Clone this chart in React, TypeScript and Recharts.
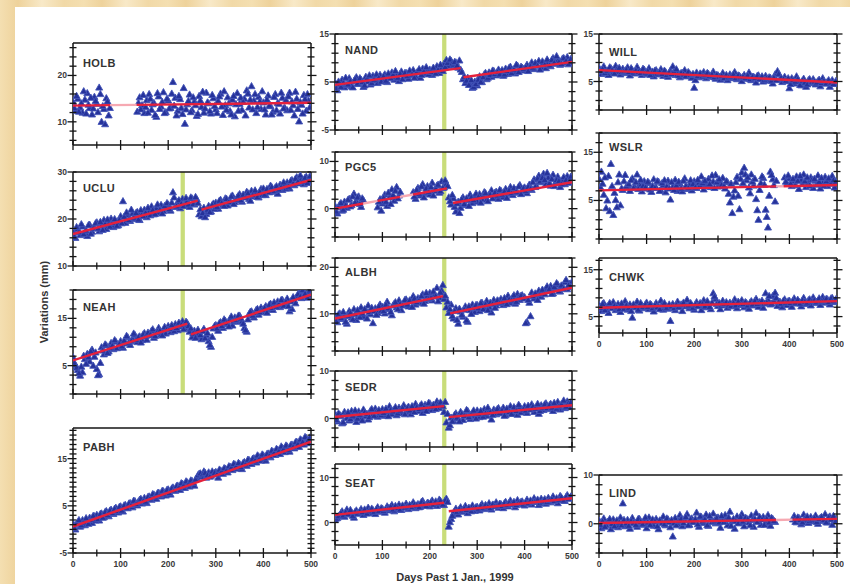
import { ComposedChart, Scatter, XAxis, YAxis, ReferenceArea } from 'recharts';

const FONT = '"Liberation Sans", Arial, Helvetica, sans-serif';

// sample days: daily solutions thinned to two interleaved sets
const DAYS = [
  0, 5, 10, 15, 20, 25, 30, 35, 40, 45,
  50, 55, 60, 65, 70, 75, 80, 85, 90, 95,
  100, 105, 110, 115, 120, 125, 130, 135, 140, 145,
  150, 155, 160, 165, 170, 175, 180, 185, 190, 195,
  200, 205, 210, 215, 220, 225, 230, 235, 240, 245,
  250, 255, 260, 265, 270, 275, 280, 285, 290, 295,
  300, 305, 310, 315, 320, 325, 330, 335, 340, 345,
  350, 355, 360, 365, 370, 375, 380, 385, 390, 395,
  400, 405, 410, 415, 420, 425, 430, 435, 440, 445,
  450, 455, 460, 465, 470, 475, 480, 485, 490, 495,
  500,
];
const DAYS_B = [
  2.5, 7.5, 12.5, 17.5, 22.5, 27.5, 32.5, 37.5, 42.5, 47.5,
  52.5, 57.5, 62.5, 67.5, 72.5, 77.5, 82.5, 87.5, 92.5, 97.5,
  102.5, 107.5, 112.5, 117.5, 122.5, 127.5, 132.5, 137.5, 142.5, 147.5,
  152.5, 157.5, 162.5, 167.5, 172.5, 177.5, 182.5, 187.5, 192.5, 197.5,
  202.5, 207.5, 212.5, 217.5, 222.5, 227.5, 232.5, 237.5, 242.5, 247.5,
  252.5, 257.5, 262.5, 267.5, 272.5, 277.5, 282.5, 287.5, 292.5, 297.5,
  302.5, 307.5, 312.5, 317.5, 322.5, 327.5, 332.5, 337.5, 342.5, 347.5,
  352.5, 357.5, 362.5, 367.5, 372.5, 377.5, 382.5, 387.5, 392.5, 397.5,
  402.5, 407.5, 412.5, 417.5, 422.5, 427.5, 432.5, 437.5, 442.5, 447.5,
  452.5, 457.5, 462.5, 467.5, 472.5, 477.5, 482.5, 487.5, 492.5, 497.5,
];

const X_TICKS = [0, 50, 100, 150, 200, 250, 300, 350, 400, 450, 500];
const X_LABELS = [0, 100, 200, 300, 400, 500];

// station series (mm)
const HOLB = [
  14.3, 12.4, 15.0, 13.1, 12.0, 14.8, 16.2, 13.0, 11.6, 15.4,
  13.9, 17.4, 10.0, 12.8, 15.1, 11.4, null, null, null, null,
  null, null, null, null, null, null, null, 12.2, 15.3, 13.6,
  11.9, 14.7, 16.0, 12.6, 14.1, 11.1, 15.5, 13.3, 16.4, 12.1,
  14.6, 13.0, 18.6, 15.2, 12.4, 14.9, 11.7, 9.6, 13.8, 15.9,
  12.5, 14.4, 11.3, 15.6, 13.2, 12.0, 16.3, 14.0, 11.8, 15.1,
  12.7, 14.5, 16.1, 11.5, 13.6, 15.3, 12.3, 14.8, 11.2, 16.2,
  13.9, 12.6, 15.0, 16.8, 13.1, 17.7, 14.6, 11.9, 15.4, 12.8,
  14.2, 11.6, 15.7, 13.4, 12.2, 16.0, 14.1, 11.8, 15.2, 13.0,
  12.5, 16.3, 14.4, 11.4, 15.0, 10.1, 13.7, 15.8, 12.4, 14.6,
  13.3,
];
const HOLB_B = [
  13.0, 15.6, 12.2, 14.0, 16.6, 11.8, 13.7, 15.2, 12.9, 14.5,
  12.1, 16.0, 13.4, 9.5, 14.4, 13.0, null, null, null, null,
  null, null, null, null, null, null, null, 14.1, 12.7, 15.8,
  13.2, 12.0, 15.0, 13.8, 11.5, 16.2, 12.8, 14.3, 11.9, 15.0,
  12.9, 16.1, 13.5, 11.4, 15.6, 13.0, 17.3, 12.7, 14.5, 12.1,
  15.3, 13.6, 11.7, 14.6, 16.5, 12.9, 14.2, 12.3, 15.8, 13.4,
  11.9, 15.5, 13.3, 16.6, 12.6, 14.0, 11.6, 15.6, 13.8, 12.4,
  15.2, 14.3, 11.4, 16.1, 14.8, 12.7, 16.0, 13.2, 14.4, 16.6,
  12.7, 14.8, 13.5, 11.6, 15.4, 12.5, 13.9, 16.3, 12.9, 14.7,
  15.5, 12.6, 13.6, 16.5, 12.8, 14.3, 11.8, 14.9, 16.0, 13.1,
];
const UCLU = [
  17.5, 16.0, 17.9, 16.6, 18.4, 17.0, 16.4, 18.8, 17.3, 18.1,
  19.3, 17.4, 18.6, 19.8, 17.9, 19.0, 20.1, 18.3, 19.5, 18.7,
  20.6, 23.8, 19.2, 20.9, 19.6, 21.2, 20.0, 21.5, 19.8, 21.0,
  22.0, 20.4, 21.6, 22.7, 21.0, 22.3, 21.4, 23.0, 21.7, 22.4,
  23.1, 21.8, 25.7, 22.6, 23.6, 22.3, 24.3, 22.9, 23.8, 22.6,
  24.4, 23.1, 24.2, 21.0, 20.6, 22.4, 21.1, 22.8, 21.6, 23.3,
  23.5, 22.2, 24.1, 23.0, 24.4, 22.9, 23.8, 25.0, 23.6, 24.6,
  25.3, 23.7, 24.9, 25.8, 24.3, 26.0, 24.8, 25.5, 24.6, 26.4,
  26.5, 25.1, 26.2, 27.1, 25.8, 26.7, 25.4, 27.3, 26.2, 27.4,
  27.8, 26.5, 28.3, 27.2, 28.9, 27.6, 28.6, 27.4, 29.0, 28.0,
  28.6,
];
const UCLU_B = [
  16.3, 18.3, 17.2, 18.9, 16.8, 17.6, 18.7, 16.9, 18.0, 19.1,
  18.0, 19.4, 17.7, 18.9, 19.9, 18.4, 19.2, 20.0, 18.6, 19.8,
  19.1, 20.5, 21.4, 19.8, 22.0, 20.3, 21.3, 19.9, 21.9, 20.6,
  21.3, 22.4, 20.8, 21.9, 21.1, 23.1, 22.0, 21.2, 22.8, 23.4,
  22.1, 23.5, 24.6, 22.7, 24.0, 23.2, 22.8, 24.5, 23.1, 24.6,
  23.2, 24.7, 23.4, 22.1, 21.3, 20.4, 22.0, 21.5, 23.0, 22.2,
  22.6, 23.9, 23.4, 22.8, 24.3, 23.6, 24.8, 23.2, 24.1, 25.0,
  24.0, 25.2, 24.6, 25.5, 23.9, 25.1, 26.1, 24.7, 25.8, 25.1,
  25.2, 26.4, 25.7, 26.8, 26.0, 27.0, 26.3, 26.8, 27.8, 26.5,
  26.9, 28.1, 27.5, 28.6, 27.9, 29.3, 28.0, 28.8, 27.7, 29.1,
];
const NEAH = [
  6.8, 5.2, 4.1, 2.9, 3.6, 6.4, 7.5, 5.9, 8.4, 6.9,
  4.3, 3.2, 8.9, 7.4, 9.3, 8.0, 9.8, 8.5, 10.1, 9.0,
  10.2, 8.8, 9.7, 11.0, 9.4, 10.6, 11.5, 10.0, 11.2, 10.4,
  11.9, 10.5, 11.4, 12.4, 10.9, 12.0, 13.0, 11.6, 12.5, 11.8,
  13.4, 12.1, 12.9, 13.8, 12.5, 13.3, 14.4, 13.0, 14.0, 12.2,
  11.0, 12.4, 11.3, 12.0, 10.6, 12.8, 11.5, 10.2, 9.0, 12.9,
  13.6, 12.4, 14.2, 13.0, 14.5, 13.8, 14.9, 13.5, 15.2, 14.3,
  15.6, 14.4, 13.0, 12.2, 15.9, 16.5, 15.2, 16.8, 15.8, 17.3,
  16.4, 17.6, 16.9, 18.1, 16.8, 17.8, 18.6, 17.4, 18.9, 18.0,
  19.2, 16.5, 17.0, 18.8, 19.6, 20.4, 19.3, 20.8, 19.8, 20.6,
  19.9,
];
const NEAH_B = [
  5.6, 4.6, 3.4, 4.8, 7.1, 5.4, 6.8, 8.0, 5.0, 7.8,
  3.0, 5.6, 8.2, 9.5, 7.7, 8.8, 9.2, 10.4, 8.7, 9.6,
  9.1, 10.3, 11.3, 9.9, 10.2, 11.8, 10.5, 11.0, 9.9, 11.6,
  11.2, 12.0, 11.6, 12.7, 11.3, 12.2, 12.4, 11.4, 13.2, 12.7,
  12.8, 13.6, 12.3, 13.0, 14.1, 13.6, 12.7, 14.3, 13.4, 12.9,
  11.8, 10.9, 12.6, 11.5, 12.3, 10.8, 11.9, 9.4, 11.1, 13.4,
  12.9, 14.0, 13.4, 14.8, 14.0, 13.3, 15.4, 14.4, 14.7, 15.6,
  15.0, 13.9, 12.5, 14.8, 16.4, 15.6, 16.2, 17.0, 16.3, 16.8,
  17.2, 16.2, 17.9, 17.2, 18.4, 17.5, 18.0, 18.9, 17.7, 18.5,
  17.6, 18.6, 19.5, 18.2, 20.1, 19.6, 21.0, 20.2, 19.4, 20.9,
];
const PABH = [
  1.3, 0.0, 1.5, 0.6, 2.0, 0.9, 1.8, 2.5, 1.4, 2.8,
  3.1, 1.9, 3.4, 2.6, 3.9, 2.8, 4.2, 3.3, 4.6, 3.6,
  4.9, 3.8, 5.2, 4.5, 5.6, 4.7, 6.0, 5.1, 6.3, 5.5,
  6.7, 5.6, 7.0, 6.3, 7.4, 6.5, 7.8, 7.0, 8.1, 7.2,
  8.5, 7.4, 8.9, 8.2, 9.3, 8.4, 9.7, 8.8, 10.0, 9.1,
  10.3, 9.3, 10.9, 11.8, 11.2, 12.3, 11.0, 12.1, 11.4, 11.8,
  12.2, 11.0, 12.5, 11.8, 12.9, 12.1, 13.3, 12.6, 13.8, 12.9,
  13.9, 12.8, 14.3, 13.5, 14.7, 13.9, 15.1, 14.2, 15.5, 14.6,
  15.7, 14.6, 16.1, 15.3, 16.5, 15.8, 16.9, 16.0, 17.3, 16.4,
  17.6, 16.5, 18.0, 17.2, 18.6, 17.5, 18.9, 18.0, 19.4, 18.3,
  18.9,
];
const PABH_B = [
  0.3, 1.2, 2.0, 0.9, 1.5, 2.4, 1.2, 2.0, 2.9, 1.9,
  2.2, 3.3, 2.5, 3.7, 3.1, 4.0, 3.5, 4.4, 3.9, 4.8,
  4.0, 5.1, 4.6, 5.5, 5.2, 6.1, 5.4, 5.9, 6.5, 6.0,
  5.9, 6.9, 6.6, 7.5, 7.0, 7.7, 7.3, 8.2, 7.6, 8.4,
  7.7, 8.7, 8.3, 9.2, 8.9, 9.8, 9.3, 10.2, 9.6, 10.4,
  9.9, 10.6, 11.5, 11.9, 11.7, 12.0, 11.5, 11.2, 12.3, 12.0,
  11.7, 12.7, 12.3, 13.0, 12.5, 13.4, 13.1, 13.9, 13.3, 14.1,
  13.2, 14.1, 13.8, 14.8, 14.3, 15.0, 14.6, 15.7, 15.1, 15.9,
  15.1, 16.0, 15.6, 16.7, 16.2, 17.1, 16.6, 17.6, 17.0, 17.8,
  16.9, 17.9, 17.5, 18.5, 18.1, 19.1, 18.5, 19.6, 18.7, 19.5,
];
const NAND = [
  4.9, 3.3, 4.6, 5.5, 3.9, 4.4, 5.8, 4.1, 5.2, 6.0,
  4.6, 5.5, 4.0, 6.1, 5.1, 4.5, 6.3, 5.3, 4.8, 6.5,
  5.4, 6.6, 5.0, 6.0, 7.0, 5.5, 6.4, 5.2, 7.2, 6.1,
  6.9, 5.7, 6.5, 7.5, 6.2, 7.1, 5.9, 7.8, 6.8, 7.3,
  7.6, 6.5, 7.2, 8.3, 6.9, 7.8, 8.8, 9.6, 8.4, 9.4,
  8.5, 9.1, 8.0, 7.6, 5.6, 4.8, 5.9, 4.5, 3.8, 5.1,
  4.3, 6.2, 5.0, 6.6, 5.6, 7.0, 6.1, 7.3, 6.4, 7.6,
  7.0, 6.3, 7.8, 6.7, 8.2, 7.2, 6.8, 8.4, 7.5, 8.0,
  7.4, 8.6, 7.9, 9.1, 7.7, 8.5, 9.4, 8.1, 8.9, 7.9,
  9.2, 8.3, 10.0, 8.8, 9.5, 8.6, 9.9, 9.1, 10.2, 9.4,
  9.0,
];
const NAND_B = [
  3.7, 5.1, 4.0, 4.8, 5.9, 4.5, 5.2, 3.9, 5.6, 4.7,
  5.8, 5.0, 4.3, 5.7, 6.4, 4.8, 5.5, 6.6, 5.9, 5.1,
  6.2, 5.3, 6.8, 5.8, 6.5, 7.3, 5.9, 6.7, 5.6, 6.9,
  6.3, 7.4, 6.6, 5.9, 7.0, 7.7, 6.5, 7.2, 8.1, 6.6,
  7.1, 8.0, 6.8, 7.5, 8.6, 7.3, 8.1, 9.0, 9.7, 8.9,
  9.2, 8.4, 9.5, 7.1, 6.1, 5.3, 4.4, 5.4, 4.0, 4.6,
  5.5, 5.0, 6.0, 6.9, 5.9, 6.5, 7.4, 6.7, 7.1, 6.6,
  7.5, 6.6, 7.3, 8.0, 6.9, 7.6, 8.6, 7.1, 8.2, 7.7,
  8.1, 7.3, 8.3, 8.0, 9.0, 8.4, 7.6, 9.3, 8.6, 9.7,
  8.5, 9.6, 9.0, 10.4, 9.2, 8.8, 10.0, 9.4, 8.7, 9.8,
];
const PGC5 = [
  0.6, -1.0, 0.9, -0.4, 1.5, 0.2, 2.1, 0.8, 3.2, 1.6,
  2.6, 0.4, 1.8, null, null, null, null, null, 0.3, 2.0,
  1.1, 3.0, 0.6, 2.4, 4.1, 1.7, 4.6, 2.8, null, null,
  null, null, null, 3.5, 2.1, 4.4, 2.8, 5.2, 3.3, 4.8,
  3.0, 5.5, 3.8, 4.9, 3.4, 5.8, 4.5, 5.3, 2.4, 0.9,
  2.2, -0.6, 1.5, 0.2, 2.4, 0.8, 1.8, 3.0, 1.2, 2.6,
  1.5, 3.1, 2.0, 3.5, 1.9, 2.9, 3.9, 2.4, 3.6, 2.1,
  3.8, 2.5, 4.2, 3.2, 4.6, 2.9, 4.0, 3.4, 5.0, 3.7,
  4.5, 3.3, 5.1, 4.0, 6.2, 4.8, 7.0, 5.6, 7.4, 5.2,
  6.6, 4.9, 7.2, 5.5, 6.8, 4.6, 6.0, 5.2, 6.9, 5.8,
  6.2,
];
const PGC5_B = [
  -0.6, 0.3, 1.2, -0.2, 0.7, 1.9, 0.5, 2.6, 1.3, 2.4,
  1.0, 2.2, null, null, null, null, null, null, 1.5, -0.4,
  2.3, 1.5, 3.4, 1.0, 2.9, 3.8, 2.2, 3.6, null, null,
  null, null, null, 2.6, 4.0, 3.2, 4.7, 2.4, 4.3, 3.6,
  4.6, 2.8, 4.2, 5.1, 3.7, 4.4, 6.0, 4.8, 1.6, 2.9,
  0.4, 1.1, -0.9, 2.0, 1.0, 2.2, 0.6, 2.4, 1.8, 3.2,
  2.5, 1.3, 2.7, 3.3, 1.6, 3.0, 2.2, 3.4, 2.8, 4.0,
  3.0, 3.6, 2.3, 3.9, 3.3, 4.4, 3.6, 4.7, 3.1, 4.3,
  3.8, 4.6, 4.2, 5.6, 4.6, 6.4, 5.8, 6.5, 6.1, 7.6,
  5.4, 6.3, 4.8, 6.1, 5.9, 5.2, 6.7, 6.1, 5.5, 6.8,
];
const ALBH = [
  9.8, 8.2, 10.1, 8.9, 9.5, 7.9, 10.6, 9.2, 11.0, 8.7,
  10.5, 11.4, 9.4, 10.8, 11.8, 9.9, 8.0, 11.2, 10.2, 12.0,
  11.5, 10.1, 12.6, 11.0, 9.7, 12.2, 11.4, 12.9, 10.8, 12.4,
  13.1, 11.6, 12.7, 13.8, 12.0, 13.4, 12.4, 14.2, 12.8, 13.9,
  14.5, 12.9, 14.0, 15.6, 13.5, 15.0, 13.2, 11.4, 10.2, 12.0,
  9.0, 11.2, 7.9, 10.5, 9.4, 11.6, 8.3, 10.8, 12.0, 10.4,
  11.9, 10.6, 12.4, 11.1, 12.8, 11.5, 10.3, 13.0, 11.8, 12.7,
  13.2, 11.9, 12.8, 13.9, 12.4, 13.6, 12.2, 14.3, 13.0, 14.0,
  13.6, 8.2, 12.4, 14.6, 13.3, 14.1, 15.0, 13.7, 14.8, 15.4,
  14.9, 16.0, 14.4, 15.5, 16.3, 14.8, 15.9, 16.8, 15.3, 16.5,
  16.9,
];
const ALBH_B = [
  8.5, 9.9, 9.1, 10.4, 8.3, 9.6, 10.2, 8.8, 9.9, 10.8,
  9.3, 10.1, 11.0, 9.0, 10.4, 11.3, 10.6, 9.8, 11.6, 10.7,
  10.6, 12.0, 11.2, 10.4, 11.8, 12.5, 11.0, 12.1, 11.8, 13.0,
  12.0, 12.9, 11.5, 13.3, 12.5, 13.0, 13.8, 12.2, 14.5, 13.2,
  13.4, 14.8, 13.8, 12.7, 14.6, 16.2, 13.9, 12.6, 11.0, 9.5,
  10.6, 8.7, 11.1, 9.8, 10.9, 8.6, 11.6, 10.0, 11.3, 11.9,
  11.2, 12.3, 11.0, 12.0, 10.8, 12.4, 12.1, 11.3, 12.9, 12.3,
  12.5, 13.4, 12.1, 13.1, 12.9, 14.0, 12.6, 13.5, 13.9, 13.3,
  8.0, 13.0, 9.5, 13.8, 14.4, 13.0, 14.3, 15.2, 14.2, 15.9,
  15.4, 14.3, 15.8, 16.6, 14.9, 16.1, 15.4, 17.3, 16.1, 15.8,
];
const SEDR = [
  1.0, -0.6, 0.8, -1.0, 1.4, 0.1, -0.4, 1.6, 0.3, -0.7,
  1.5, 0.2, 1.9, 0.5, -0.2, 1.7, 0.9, 2.1, 0.4, 1.2,
  2.0, 0.6, 1.5, 2.6, 0.9, 1.9, 0.7, 2.3, 1.2, 2.8,
  1.4, 2.5, 0.9, 2.1, 3.1, 1.6, 2.7, 1.2, 2.9, 2.0,
  3.2, 1.8, 2.7, 3.6, 2.2, 3.0, 1.4, -0.8, -1.9, 0.2,
  -0.5, 1.1, 0.0, 1.4, -0.3, 0.8, 1.6, -0.1, 1.2, 0.5,
  1.7, 0.3, 1.3, 2.0, 0.6, 1.5, -0.2, 1.9, 0.9, 2.2,
  1.1, 2.3, 0.7, 1.8, 2.6, 1.0, 2.0, 0.8, 2.5, 1.5,
  2.6, 1.2, 2.1, 3.0, 1.4, 2.4, 1.0, 2.8, 1.8, 3.2,
  2.0, 3.1, 1.6, 2.7, 3.5, 1.9, 2.9, 2.2, 3.6, 2.4,
  3.0,
];
const SEDR_B = [
  -0.3, 1.1, 0.5, -0.8, 0.9, 1.3, -0.1, 0.6, 1.7, 0.0,
  0.8, -0.4, 1.3, 1.0, 0.3, 2.0, 0.6, 1.5, 1.8, 0.7,
  1.2, 2.1, 0.5, 1.8, 1.5, 2.4, 1.1, 1.7, 2.2, 0.9,
  2.2, 1.7, 2.6, 1.4, 2.4, 2.0, 3.0, 2.3, 1.6, 3.3,
  2.5, 2.9, 2.0, 3.1, 3.4, 2.6, 3.5, 1.0, -1.4, -0.6,
  0.8, 0.2, -0.6, 1.0, 0.6, 1.8, 0.3, 0.9, 1.7, 0.0,
  1.0, 1.6, 0.4, 1.1, 2.3, 1.3, 0.8, 1.6, 2.0, 1.2,
  1.7, 0.6, 2.1, 1.4, 1.0, 2.4, 1.6, 2.9, 1.3, 1.9,
  1.7, 2.7, 1.9, 2.5, 2.1, 3.1, 1.6, 2.3, 3.0, 2.2,
  2.8, 2.3, 3.3, 2.1, 2.6, 3.0, 3.8, 2.5, 3.2, 3.4,
];
const SEAT = [
  0.6, 1.0, 1.6, 2.5, 1.3, 2.9, 1.8, 2.2, 1.1, 2.7,
  2.0, 3.0, 1.7, 2.6, 3.3, 2.1, 2.8, 1.9, 3.4, 2.4,
  3.1, 2.2, 3.6, 2.7, 3.9, 2.5, 3.3, 4.0, 2.8, 3.5,
  4.2, 3.0, 3.7, 4.5, 3.2, 4.1, 3.5, 4.8, 3.8, 4.4,
  3.6, 4.9, 4.2, 3.7, 5.1, 4.4, 3.9, 5.3, -0.9, 0.8,
  2.0, 3.1, 1.8, 3.4, 2.4, 3.7, 2.1, 3.0, 3.8, 2.6,
  3.5, 2.7, 4.1, 3.0, 3.6, 4.3, 2.9, 3.9, 4.5, 3.3,
  4.1, 3.2, 4.6, 3.6, 4.9, 4.0, 3.4, 5.0, 4.2, 4.7,
  3.8, 5.1, 4.4, 4.0, 5.4, 4.6, 3.9, 5.3, 4.8, 4.2,
  5.5, 4.5, 5.8, 5.0, 4.3, 5.9, 5.2, 4.8, 6.1, 5.4,
  5.7,
];
const SEAT_B = [
  0.9, 1.4, 2.1, 1.6, 2.3, 1.9, 2.8, 1.5, 2.4, 2.0,
  2.5, 2.3, 2.9, 2.0, 2.7, 3.1, 2.4, 3.0, 2.6, 3.2,
  2.6, 3.0, 3.2, 3.5, 2.9, 3.7, 3.2, 2.9, 3.8, 3.3,
  3.6, 3.9, 3.4, 4.0, 3.8, 3.4, 4.6, 4.1, 3.7, 4.3,
  4.5, 4.0, 4.7, 4.3, 4.8, 4.0, 4.9, 4.6, 0.1, 1.5,
  2.6, 2.4, 3.0, 2.7, 3.1, 2.8, 3.3, 2.5, 3.2, 3.4,
  3.1, 3.7, 3.3, 3.9, 3.5, 3.2, 4.0, 3.6, 3.8, 4.2,
  3.7, 4.3, 3.9, 4.4, 4.2, 4.6, 3.9, 4.4, 4.6, 4.0,
  4.5, 4.3, 4.9, 4.6, 4.8, 5.1, 4.3, 4.7, 5.2, 4.6,
  5.0, 5.2, 4.8, 5.4, 5.1, 5.6, 4.9, 5.7, 5.3, 5.8,
];
const WILL = [
  7.9, 6.6, 8.2, 7.0, 6.4, 7.8, 6.9, 8.3, 7.1, 6.5,
  7.7, 6.8, 8.0, 6.3, 7.4, 6.7, 8.1, 7.2, 6.4, 7.5,
  6.6, 7.8, 6.9, 6.1, 7.4, 6.5, 7.6, 6.2, 7.0, 6.0,
  7.3, 8.2, 6.4, 7.0, 5.9, 6.8, 7.4, 6.1, 6.7, 5.8,
  3.7, 6.9, 5.9, 6.5, 7.0, 5.7, 6.6, 6.0, 7.1, 5.6,
  6.3, 5.4, 6.8, 6.0, 5.3, 6.5, 5.7, 7.0, 5.5, 6.2,
  5.1, 6.4, 5.6, 6.9, 5.3, 6.0, 4.8, 6.3, 5.5, 5.0,
  6.2, 5.2, 5.8, 4.6, 6.5, 7.2, 5.4, 4.9, 6.0, 5.1,
  3.6, 5.7, 4.6, 6.1, 5.0, 4.2, 5.6, 3.9, 5.3, 4.7,
  5.5, 4.4, 5.1, 4.0, 5.7, 4.6, 5.0, 3.9, 5.3, 4.5,
  4.9,
];
const WILL_B = [
  7.2, 7.6, 6.8, 7.3, 8.0, 7.4, 6.7, 7.6, 7.9, 7.0,
  7.2, 7.5, 7.0, 7.8, 6.9, 7.3, 7.0, 6.8, 7.7, 6.9,
  7.2, 6.4, 7.1, 7.3, 6.7, 7.0, 6.6, 7.3, 6.4, 6.9,
  6.6, 7.1, 7.6, 6.3, 6.8, 6.5, 6.2, 7.0, 6.4, 6.6,
  5.3, 6.2, 6.7, 6.1, 6.4, 6.8, 6.2, 6.5, 5.9, 6.4,
  6.0, 6.2, 5.7, 6.4, 5.9, 6.1, 6.5, 5.8, 6.3, 5.9,
  6.0, 5.8, 6.3, 5.5, 6.0, 5.7, 6.2, 5.6, 6.1, 5.4,
  5.7, 5.9, 5.2, 5.8, 5.3, 6.6, 5.8, 5.5, 5.2, 5.7,
  4.5, 5.3, 5.0, 5.5, 4.3, 5.2, 4.8, 4.4, 5.5, 4.9,
  5.0, 4.8, 5.4, 4.7, 5.1, 4.6, 5.3, 4.8, 4.5, 5.1,
];
const WSLR = [
  9.5, 11.0, 6.2, 3.4, 10.1, 12.6, 2.0, 5.1, 8.8, 4.0,
  7.2, 10.3, 8.1, 7.0, 9.6, 7.8, 10.4, 8.3, 6.9, 9.0,
  7.5, 8.6, 6.8, 9.4, 7.7, 8.9, 7.1, 8.2, 6.7, 9.1,
  5.2, 7.8, 9.3, 7.0, 8.5, 6.9, 9.6, 7.4, 8.3, 7.1,
  9.0, 7.6, 8.7, 10.0, 7.3, 8.4, 9.5, 7.8, 8.9, 10.3,
  7.9, 8.6, 9.7, 7.5, 8.8, 4.6, 2.4, 7.1, 9.9, 3.2,
  10.8, 11.8, 9.2, 7.7, 10.4, 8.1, 5.3, 1.0, 8.6, 9.7,
  3.1, -0.6, 11.0, 9.4, 4.8, null, null, null, 9.8, 8.5,
  9.6, 8.0, 9.0, 10.0, 7.4, 9.2, 10.4, 7.8, 8.7, 9.8,
  7.6, 9.1, 10.2, 7.5, 8.6, 9.9, 8.0, 9.3, 10.1, 7.7,
  8.7,
];
const WSLR_B = [
  7.8, 8.5, 9.8, 5.0, 2.8, 8.0, 6.6, 3.6, 10.4, 7.5,
  9.0, 7.9, 8.4, 9.2, 7.6, 8.8, 7.4, 9.3, 8.0, 7.7,
  8.9, 7.3, 8.0, 7.6, 9.0, 7.0, 8.6, 9.2, 7.9, 7.5,
  8.8, 7.2, 8.1, 8.9, 7.5, 9.1, 8.0, 7.6, 9.2, 8.4,
  7.7, 9.3, 8.1, 8.6, 9.1, 7.9, 8.4, 10.2, 7.6, 8.8,
  9.4, 8.2, 8.0, 9.0, 6.4, 8.5, 5.8, 8.8, 6.0, 9.5,
  8.6, 10.4, 9.8, 6.5, 8.9, 9.5, 3.0, 7.2, 10.0, 8.3,
  1.6, 6.0, 10.3, 8.2, 9.1, null, null, null, 8.9, 10.2,
  8.5, 9.5, 8.2, 9.1, 10.1, 8.4, 9.0, 9.8, 8.1, 9.3,
  9.5, 8.3, 8.9, 9.7, 8.1, 9.0, 9.6, 8.5, 9.2, 8.9,
];
const CHWK = [
  7.5, 6.2, 7.9, 6.6, 5.8, 7.3, 8.1, 6.4, 7.7, 6.0,
  7.2, 8.3, 6.5, 7.6, 4.8, 7.0, 8.2, 6.3, 7.4, 6.8,
  8.0, 6.6, 7.5, 6.1, 7.9, 7.1, 8.4, 6.5, 7.3, 6.7,
  4.1, 7.7, 6.4, 8.2, 7.0, 6.2, 7.8, 8.6, 6.8, 7.4,
  6.5, 8.1, 7.2, 6.4, 8.5, 7.0, 7.7, 6.6, 10.0, 8.8,
  7.3, 6.6, 8.4, 7.5, 6.9, 8.0, 7.2, 8.7, 6.8, 7.8,
  8.5, 7.0, 7.9, 6.7, 8.3, 7.4, 8.8, 7.1, 7.7, 6.9,
  10.0, 8.6, 7.6, 9.4, 10.1, 7.3, 8.2, 7.0, 8.7, 7.5,
  8.4, 7.1, 8.9, 7.8, 8.2, 7.2, 9.0, 7.7, 8.5, 7.4,
  9.1, 7.9, 8.4, 7.5, 9.2, 8.0, 8.7, 7.6, 9.0, 8.1,
  8.6,
];
const CHWK_B = [
  6.9, 7.7, 6.4, 7.2, 7.9, 6.8, 7.3, 7.0, 6.6, 7.8,
  6.7, 7.4, 6.9, 6.2, 7.6, 7.0, 6.5, 7.9, 7.1, 7.6,
  7.1, 7.7, 6.8, 7.4, 7.0, 6.6, 7.5, 7.9, 6.9, 7.6,
  7.2, 6.8, 7.5, 7.1, 7.6, 8.0, 7.2, 7.4, 7.9, 6.9,
  7.6, 7.3, 7.9, 7.7, 7.2, 8.3, 7.1, 8.0, 9.3, 7.7,
  7.9, 7.4, 7.7, 8.1, 7.6, 7.3, 7.9, 7.4, 8.2, 7.5,
  7.7, 8.1, 7.4, 8.0, 7.6, 8.3, 7.7, 8.1, 8.4, 7.8,
  8.0, 9.4, 7.8, 8.3, 9.0, 8.1, 7.8, 8.4, 8.0, 8.3,
  7.9, 8.4, 8.0, 8.6, 7.8, 8.5, 8.2, 8.0, 8.7, 8.3,
  8.5, 8.2, 8.9, 8.3, 8.6, 8.8, 8.1, 8.9, 8.4, 8.7,
];
const LIND = [
  0.7, -0.9, 1.1, -0.3, 0.5, -1.1, 0.9, 0.1, -0.7, 1.3,
  4.2, -0.5, 0.8, -1.0, 1.2, 0.2, -0.6, 1.0, -0.2, 0.6,
  -0.9, 1.3, 0.3, -0.4, 1.0, -1.1, 0.6, 1.5, -0.3, 0.9,
  -0.7, -2.6, 1.2, 0.0, 1.8, -0.5, 0.8, 2.0, -0.2, 1.1,
  0.4, 2.3, -0.6, 1.4, 0.2, 1.9, -0.4, 1.0, 2.1, 0.1,
  1.3, -0.8, 0.7, 1.8, -0.3, 2.5, 0.5, -1.0, 1.5, 0.2,
  2.0, -0.5, 1.1, 0.3, 1.7, -0.6, 2.2, 0.6, -0.2, 1.4,
  0.1, 1.8, -0.4, 1.0, 0.4, null, null, null, null, null,
  null, null, 1.6, 0.3, 1.2, -0.1, 1.9, 0.7, 0.2, 1.4,
  0.5, 1.7, 0.0, 1.2, 0.6, 2.0, 0.3, 1.5, -0.2, 1.1,
  0.8,
];
const LIND_B = [
  -0.2, 0.5, -0.6, 0.4, 1.0, 0.0, -0.5, 0.7, 0.3, -0.3,
  0.8, 0.1, -0.4, 0.6, 0.2, -0.2, 1.0, 0.4, 0.0, 1.3,
  0.3, -0.2, 0.9, 0.5, -0.5, 0.7, 0.2, -0.1, 1.1, 0.4,
  0.8, 0.1, -0.3, 0.6, 1.0, 0.2, 1.4, -0.3, 0.9, 0.4,
  1.0, -0.1, 1.5, 0.5, 0.9, -0.3, 1.6, 0.4, 0.7, 1.2,
  0.3, 1.6, 0.4, 0.9, 1.3, -0.4, 1.0, 0.6, 0.1, 1.4,
  0.5, 1.2, 0.9, -0.3, 0.8, 1.0, 0.4, 1.4, 0.9, -0.2,
  1.0, 0.3, 1.2, 0.6, null, null, null, null, null, null,
  null, 0.9, 0.4, 1.3, 0.8, 0.3, 1.1, 1.5, 0.6, 0.9,
  1.2, 0.4, 1.0, 1.4, 0.8, 0.3, 1.3, 0.9, 1.6, 0.6,
];

// fitted trends: [day0, mm0, day1, mm1, faded]
const HOLB_FIT = [[0, 13.5, 78, 13.59, 0], [78, 13.59, 134, 13.66, 1], [134, 13.66, 500, 14.1, 0]];
const UCLU_FIT = [[0, 16.8, 262, 23.9, 0], [270, 22.0, 500, 28.3, 0]];
const NEAH_FIT = [[0, 6.1, 240, 13.9, 0], [248, 11.6, 500, 20.0, 0]];
const PABH_FIT = [[0, 0.6, 500, 18.6, 0]];
const NAND_FIT = [[0, 4.4, 265, 7.9, 0], [271, 6.0, 500, 9.2, 0]];
const PGC5_FIT = [
  [0, 0.0, 60, 1.09, 0], [60, 1.09, 90, 1.64, 1], [90, 1.64, 137, 2.49, 0],
  [137, 2.49, 165, 3.0, 1], [165, 3.0, 236, 4.3, 0], [249, 1.2, 500, 5.6, 0],
];
const ALBH_FIT = [[0, 9.0, 228, 13.8, 0], [243, 10.1, 500, 15.6, 0]];
const SEDR_FIT = [[0, 0.3, 230, 2.6, 0], [240, 0.3, 500, 2.8, 0]];
const SEAT_FIT = [[0, 1.7, 230, 4.4, 0], [240, 2.5, 500, 5.4, 0]];
const WILL_FIT = [[0, 7.4, 500, 4.8, 0]];
const WSLR_FIT = [[0, 7.1, 372, 7.92, 0], [372, 7.92, 388, 7.95, 1], [388, 7.95, 500, 8.2, 0]];
const CHWK_FIT = [[0, 6.9, 500, 8.3, 0]];
const LIND_FIT = [[0, 0.15, 372, 0.78, 0], [372, 0.78, 407, 0.84, 1], [407, 0.84, 500, 1.0, 0]];

// y ticks and labelled values
const HOLB_Y = [6, 8, 10, 12, 14, 16, 18, 20, 22, 24, 26];
const UCLU_Y = [10, 12, 14, 16, 18, 20, 22, 24, 26, 28, 30];
const NEAH_Y = [-1, 1, 3, 5, 7, 9, 11, 13, 15, 17, 19, 21];
const PABH_Y = [-5, -4, -3, -2, -1, 0, 1, 2, 3, 4, 5, 6, 7, 8, 9, 10, 11, 12, 13, 14, 15, 16, 17, 18, 19, 20, 21];
const NAND_Y = [-5, -3, -1, 1, 3, 5, 7, 9, 11, 13, 15];
const PGC5_Y = [-6, -4, -2, 0, 2, 4, 6, 8, 10, 12];
const ALBH_Y = [2, 4, 6, 8, 10, 12, 14, 16, 18, 20, 22];
const SEDR_Y = [-6, -4, -2, 0, 2, 4, 6, 8, 10];
const SEAT_Y = [-4, -2, 0, 2, 4, 6, 8, 10, 12];
const WILL_Y = [-1, 1, 3, 5, 7, 9, 11, 13, 15];
const WSLR_Y = [-3, -1, 1, 3, 5, 7, 9, 11, 13, 15, 17, 19];
const CHWK_Y = [3, 5, 7, 9, 11, 13, 15, 17];
const LIND_Y = [-6, -4, -2, 0, 2, 4, 6, 8, 10];

const PANELS = [
  { name: 'HOLB', a: HOLB, b: HOLB_B, fit: HOLB_FIT, ticks: HOLB_Y, labels: [10, 20], domain: [5, 27], left: 73, top: 43, w: 238, h: 102, ly: 20 },
  { name: 'UCLU', a: UCLU, b: UCLU_B, fit: UCLU_FIT, ticks: UCLU_Y, labels: [10, 20, 30], domain: [10, 30], left: 73, top: 172, w: 238, h: 94, ly: 16, band: true },
  { name: 'NEAH', a: NEAH, b: NEAH_B, fit: NEAH_FIT, ticks: NEAH_Y, labels: [5, 15], domain: [-1, 21], left: 73, top: 290, w: 238, h: 104, ly: 17, band: true },
  { name: 'PABH', a: PABH, b: PABH_B, fit: PABH_FIT, ticks: PABH_Y, labels: [-5, 5, 15], domain: [-5, 21.5], left: 73, top: 428, w: 238, h: 125, ly: 19, xl: true },
  { name: 'NAND', a: NAND, b: NAND_B, fit: NAND_FIT, ticks: NAND_Y, labels: [-5, 5, 15], domain: [-5, 15], left: 335, top: 34, w: 237, h: 96, ly: 16, band: true },
  { name: 'PGC5', a: PGC5, b: PGC5_B, fit: PGC5_FIT, ticks: PGC5_Y, labels: [0, 10], domain: [-6, 12], left: 335, top: 152, w: 237, h: 85, ly: 15, band: true },
  { name: 'ALBH', a: ALBH, b: ALBH_B, fit: ALBH_FIT, ticks: ALBH_Y, labels: [10, 20], domain: [2, 22], left: 335, top: 258, w: 237, h: 93, ly: 14, band: true },
  { name: 'SEDR', a: SEDR, b: SEDR_B, fit: SEDR_FIT, ticks: SEDR_Y, labels: [0, 10], domain: [-6, 10], left: 335, top: 371, w: 237, h: 76, ly: 16, band: true },
  { name: 'SEAT', a: SEAT, b: SEAT_B, fit: SEAT_FIT, ticks: SEAT_Y, labels: [0, 10], domain: [-5, 13], left: 335, top: 464, w: 237, h: 81, ly: 19, band: true, xl: true },
  { name: 'WILL', a: WILL, b: WILL_B, fit: WILL_FIT, ticks: WILL_Y, labels: [5, 15], domain: [-1, 15], left: 599, top: 34, w: 238, h: 76, ly: 18 },
  { name: 'WSLR', a: WSLR, b: WSLR_B, fit: WSLR_FIT, ticks: WSLR_Y, labels: [5, 15], domain: [-3, 19], left: 599, top: 133, w: 238, h: 106, ly: 14 },
  { name: 'CHWK', a: CHWK, b: CHWK_B, fit: CHWK_FIT, ticks: CHWK_Y, labels: [5, 15], domain: [1.5, 17.5], left: 599, top: 258, w: 238, h: 75, ly: 19, xl: true },
  { name: 'LIND', a: LIND, b: LIND_B, fit: LIND_FIT, ticks: LIND_Y, labels: [0, 10], domain: [-6, 10], left: 599, top: 475, w: 238, h: 78, ly: 18, xl: true },
];

const INK = '#151515';
const LABEL = '#3a3a3a';

function Tri(props: any) {
  const { cx, cy } = props;
  if (cx == null || cy == null) return <g />;
  return (
    <path
      d={`M${cx},${cy - 3.6}L${cx + 3.5},${cy + 2.6}L${cx - 3.5},${cy + 2.6}Z`}
      fill="#26329a"
      stroke="#4354b8"
      strokeWidth={0.9}
      strokeLinejoin="round"
    />
  );
}

const NoDot = () => <g />;

function XTick({ x, y, payload, showLabel }: any) {
  const major = payload.value % 100 === 0;
  const h = major ? 5 : 3.5;
  return (
    <g>
      <line x1={x} x2={x} y1={y - h} y2={y + h} stroke={INK} strokeWidth={1.3} />
      {showLabel && X_LABELS.includes(payload.value) && (
        <text x={x} y={y + 14} textAnchor="middle" fontSize={8.5} fontWeight="bold" fill={LABEL} fontFamily={FONT}>
          {payload.value}
        </text>
      )}
    </g>
  );
}

function YTick({ x, y, payload, labels, side }: any) {
  const lab = labels.includes(payload.value);
  const out = lab ? 5.5 : 3.5;
  const x1 = side === 'left' ? x - out : x - 3.5;
  const x2 = side === 'left' ? x + 3.5 : x + out;
  return (
    <g>
      <line x1={x1} x2={x2} y1={y} y2={y} stroke={INK} strokeWidth={1.3} />
      {side === 'left' && lab && (
        <text x={x - 6} y={y + 3} textAnchor="end" fontSize={8.5} fontWeight="bold" fill={LABEL} fontFamily={FONT}>
          {payload.value}
        </text>
      )}
    </g>
  );
}

function Panel({ p }: any) {
  const L = 30, R = 7, T = 7;
  const B = p.xl ? 20 : 7;
  const pts = [
    ...DAYS.map((d, i) => ({ x: d, y: p.a[i] })),
    ...DAYS_B.map((d, i) => ({ x: d, y: p.b[i] })),
  ].filter((q) => q.y != null);
  const axisLine = { stroke: INK, strokeWidth: 1.5 };
  return (
    <div style={{ position: 'absolute', left: p.left - L, top: p.top - T }}>
      <ComposedChart width={p.w + L + R} height={p.h + T + B} margin={{ top: 0, right: 0, bottom: 0, left: 0 }}>
        <XAxis
          type="number"
          dataKey="x"
          domain={[0, 500]}
          ticks={X_TICKS}
          interval={0}
          allowDataOverflow
          height={B}
          tickSize={0}
          tickMargin={0}
          axisLine={axisLine}
          tick={(t: any) => <XTick {...t} showLabel={p.xl} />}
        />
        <XAxis
          xAxisId="top"
          orientation="top"
          type="number"
          domain={[0, 500]}
          ticks={X_TICKS}
          interval={0}
          allowDataOverflow
          height={T}
          tickSize={0}
          tickMargin={0}
          axisLine={axisLine}
          tick={(t: any) => <XTick {...t} showLabel={false} />}
        />
        <YAxis
          type="number"
          dataKey="y"
          domain={p.domain}
          ticks={p.ticks}
          interval={0}
          allowDataOverflow
          width={L}
          tickSize={0}
          tickMargin={0}
          axisLine={axisLine}
          tick={(t: any) => <YTick {...t} labels={p.labels} side="left" />}
        />
        <YAxis
          yAxisId="r"
          orientation="right"
          type="number"
          domain={p.domain}
          ticks={p.ticks}
          interval={0}
          allowDataOverflow
          width={R}
          tickSize={0}
          tickMargin={0}
          axisLine={axisLine}
          tick={(t: any) => <YTick {...t} labels={p.labels} side="right" />}
        />
        {p.band && (
          <ReferenceArea x1={226} x2={235} fill="#c9dd7a" fillOpacity={1} stroke="none" ifOverflow="hidden" />
        )}
        <Scatter data={pts} dataKey="y" shape={<Tri />} isAnimationActive={false} />
        {p.fit.map((f: number[], i: number) => (
          <Scatter
            key={i}
            data={[{ x: f[0], y: f[1] }, { x: f[2], y: f[3] }]}
            dataKey="y"
            fill={f[4] ? '#f6a9b2' : '#e6213c'}
            line={{ stroke: f[4] ? '#f6a9b2' : '#e6213c', strokeWidth: 2.4 }}
            shape={<NoDot />}
            isAnimationActive={false}
          />
        ))}
      </ComposedChart>
      <div
        style={{
          position: 'absolute',
          left: L + 10,
          top: T + p.ly - 7,
          fontFamily: FONT,
          fontWeight: 'bold',
          fontSize: 11,
          lineHeight: '14px',
          letterSpacing: 0.4,
          color: '#333',
        }}
      >
        {p.name}
      </div>
    </div>
  );
}

export default function App() {
  return (
    <div
      style={{
        position: 'absolute',
        left: 0,
        top: 0,
        width: 850,
        height: 584,
        overflow: 'hidden',
        background:
          'repeating-linear-gradient(90deg, #f4dfb1 0px, #eed29b 18px, #f8e9c8 42px, #f1d9a7 64px, #f4dfb1 84px)',
      }}
    >
      <div style={{ position: 'absolute', left: 15, top: 7, right: 0, bottom: 0, background: '#ffffff' }} />
      {PANELS.map((p) => (
        <Panel key={p.name} p={p} />
      ))}
      <div
        style={{
          position: 'absolute',
          left: 44,
          top: 302,
          transform: 'translate(-50%, -50%) rotate(-90deg)',
          whiteSpace: 'nowrap',
          fontFamily: FONT,
          fontWeight: 'bold',
          fontSize: 11,
          color: '#333',
        }}
      >
        Variations (mm)
      </div>
      <div
        style={{
          position: 'absolute',
          left: 455,
          top: 577,
          transform: 'translate(-50%, -50%)',
          whiteSpace: 'nowrap',
          fontFamily: FONT,
          fontWeight: 'bold',
          fontSize: 11,
          color: '#333',
        }}
      >
        Days Past 1 Jan., 1999
      </div>
    </div>
  );
}
